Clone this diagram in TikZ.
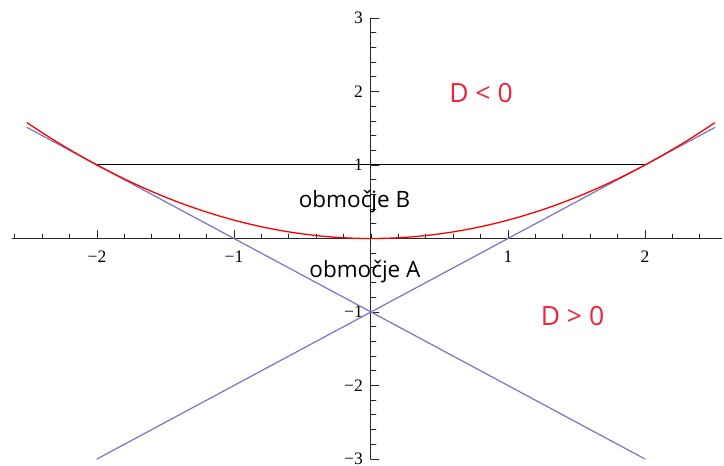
\documentclass[tikz,border=0pt]{standalone}
\usepackage{fontspec}
\setmainfont{Liberation Serif}
\newfontfamily\regionfont{Open Sans}
\definecolor{lineblue}{RGB}{118,118,192}
\definecolor{textred}{RGB}{240,35,55}
\tikzset{
  axisline/.style={line width=1pt, black!85},
  ticklabel/.style={font=\fontsize{17.5}{19}\selectfont, inner sep=0pt},
  region/.style={font=\regionfont\fontsize{22.5}{24}\selectfont, anchor=base, inner sep=0pt},
  discr/.style={font=\regionfont\fontsize{26.5}{28}\selectfont, anchor=base, inner sep=0pt, textred},
}
\begin{document}
\begin{tikzpicture}[x=137pt, y=73.5pt, line join=round, line cap=round]
			\useasboundingbox (-2.708,-3.082) rectangle (2.577,3.245);
			\path 
			(-2.62,0) coordinate (xl)
			(2.56,0) coordinate (xr)
			(0,-3) coordinate (yb)
			(0,3) coordinate (yt)
			(-2,1) coordinate (L)
			(2,1) coordinate (R)
			(0,-1) coordinate (V)
			(-2.51,1.51) coordinate (bl)
			(2.51,1.51) coordinate (br)
			(-2,-3) coordinate (dl)
			(2,-3) coordinate (dr)
			;
			% axes with ticks
			\draw[axisline] (xl) -- (xr);
			\draw[axisline] (yb) -- (yt);
			\foreach \i in {-13,...,12} \draw[black!85, line width=0.8pt] (\i/5,0) -- ++(0,4.5pt);
			\foreach \i in {-15,...,15} \draw[black!85, line width=0.8pt] (0,\i/5) -- ++(5pt,0);
			\foreach \x/\t in {-2/−2,-1/−1,1/1,2/2} {
				\draw[black!85, line width=0.8pt] (\x,0) -- ++(0,8pt);
				\node[ticklabel] (tx\x) at (\x,-18.5pt) {\t};
			}
			\foreach \y/\t in {-3/−3,-2/−2,-1/−1,1/1,2/2,3/3} {
				\draw[black!85, line width=0.8pt] (0,\y) -- ++(8pt,0);
				\node[ticklabel, anchor=east] (ty\y) at (-8pt,\y) {\t};
			}
			% curves
			\draw[line width=1pt] (L) -- (R);
			\draw[lineblue, line width=1.2pt] (bl) -- (V) -- (dr);
			\draw[lineblue, line width=1.2pt] (dl) -- (V) -- (br);
			\draw[red, line width=1.3pt] plot[domain=-2.51:2.51, samples=120, smooth] (\x,{\x*\x/4});
			% labels
			\node[region] (regB) at (-0.12,0.415) {območje B};
			\node[region] (regA) at (-0.044,-0.537) {območje A};
			\node[discr] (neg) at (0.803,1.857) {D < 0};
			\node[discr] (pos) at (1.471,-1.177) {D > 0};
		\end{tikzpicture}
\end{document}
